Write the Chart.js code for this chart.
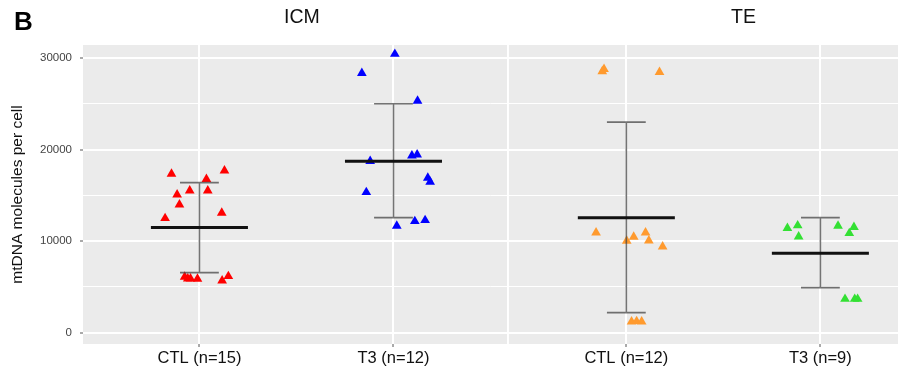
<!DOCTYPE html>
<html>
<head>
<meta charset="utf-8">
<script src="https://cdn.jsdelivr.net/npm/chart.js@4.4.1/dist/chart.umd.min.js"></script>
<style>
  body { margin: 0; background: #fff; overflow: hidden; }
  #wrap { position: relative; width: 898px; height: 372px; font-family: "Liberation Sans", Arial, sans-serif; }
  #wrap canvas { position: absolute; left: 0; top: 0; }
  .lbl { position: absolute; color: #111; white-space: nowrap; }
  #panelB { left: 14px; top: 6px; font-size: 26px; font-weight: bold; color: #000; }
  #stripICM { left: 284px; top: 5px; font-size: 19.5px; }
  #stripTE { left: 731px; top: 5px; font-size: 19.5px; }
</style>
</head>
<body>
<div id="wrap">
  <canvas id="dotChart" width="898" height="372"></canvas>
  <div class="lbl" id="panelB">B</div>
  <div class="lbl" id="stripICM">ICM</div>
  <div class="lbl" id="stripTE">TE</div>
</div>
<script>
// categories (ICM: CTL, T3 | TE: CTL, T3)
const categories = ['CTL (n=15)', 'T3 (n=12)', 'CTL (n=12)', 'T3 (n=9)'];
const yTicks = [0, 5000, 10000, 15000, 20000, 25000, 30000];

// mtDNA molecules per cell
const icmCtl = [17350, 17700, 16770, 15080, 15520, 15520, 13990, 13080, 12500, 6090, 5900, 5900, 5870, 5680, 6160];
const icmT3 = [30430, 28350, 25320, 18730, 19340, 19450, 16900, 16470, 15340, 11660, 12170, 12280];
const teCtl = [28790, 28530, 28460, 10930, 10020, 10460, 10930, 10050, 9400, 1200, 1200, 1250];
const teT3 = [11410, 11700, 10490, 11660, 11520, 10860, 3680, 3680, 3680];

// horizontal jitter of each point (category units)
const icmCtlJitter = [-0.144, 0.129, 0.036, -0.115, -0.05, 0.043, -0.103, 0.115, -0.177, -0.076, -0.06, -0.046, -0.01, 0.117, 0.149];
const icmT3Jitter = [0.007, -0.163, 0.124, -0.12, 0.095, 0.122, 0.177, 0.189, -0.14, 0.017, 0.11, 0.163];
const teCtlJitter = [-0.115, -0.124, 0.171, -0.156, 0.002, 0.038, 0.099, 0.116, 0.187, 0.027, 0.079, 0.053];
const teT3Jitter = [-0.17, -0.117, -0.112, 0.091, 0.173, 0.149, 0.127, 0.177, 0.192];

// mean and error bar ends per group
const means = [11475, 18730, 12540, 8680];
const errLow = [6560, 12570, 2190, 4920];
const errHigh = [16390, 25000, 23000, 12570];

const colors = ['#ff0000', '#0000ff', '#ff9a2e', '#33e033'];
const catPos = [1, 2, 3.2, 4.2];

function pts(values, jitter, k) {
    return values.map(function (v, i) { return { x: catPos[k] + jitter[i], y: v }; });
}

const groups = [[icmCtl, icmCtlJitter], [icmT3, icmT3Jitter], [teCtl, teCtlJitter], [teT3, teT3Jitter]];
const datasets = groups.map(function (g, k) {
    return {
        data: pts(g[0], g[1], k),
        pointStyle: 'triangle',
        radius: 5.6,
        hoverRadius: 5.6,
        backgroundColor: colors[k],
        borderWidth: 0
    };
});

// grey panels with a white gap between facets
const panelBg = {
    id: 'panelBg',
    beforeDraw: function (chart) {
        const c = chart.ctx, a = chart.chartArea, x = chart.scales.x;
        c.save();
        c.fillStyle = '#ebebeb';
        const p1 = x.getPixelForValue(2.585), p2 = x.getPixelForValue(2.595);
        c.fillRect(a.left, a.top, p1 - a.left, a.bottom - a.top);
        c.fillRect(p2, a.top, a.right - p2, a.bottom - a.top);
        c.restore();
    }
};

// mean line and error bars
const meanBars = {
    id: 'meanBars',
    afterDatasetsDraw: function (chart) {
        const c = chart.ctx, x = chart.scales.x, y = chart.scales.y;
        c.save();
        catPos.forEach(function (p, k) {
            const cx = x.getPixelForValue(p);
            const capL = x.getPixelForValue(p - 0.1), capR = x.getPixelForValue(p + 0.1);
            const yl = y.getPixelForValue(errLow[k]), yh = y.getPixelForValue(errHigh[k]);
            c.strokeStyle = 'rgba(70,70,70,0.75)';
            c.lineWidth = 1.6;
            c.beginPath();
            c.moveTo(cx, yl); c.lineTo(cx, yh);
            c.moveTo(capL, yl); c.lineTo(capR, yl);
            c.moveTo(capL, yh); c.lineTo(capR, yh);
            c.stroke();
            const ym = y.getPixelForValue(means[k]);
            c.strokeStyle = '#111';
            c.lineWidth = 3;
            c.beginPath();
            c.moveTo(x.getPixelForValue(p - 0.25), ym);
            c.lineTo(x.getPixelForValue(p + 0.25), ym);
            c.stroke();
        });
        c.restore();
    }
};

const ctx = document.getElementById('dotChart').getContext('2d');
const myChart = new Chart(ctx, {
    type: 'scatter',
    data: { datasets: datasets },
    plugins: [panelBg, meanBars],
    options: {
        responsive: false,
        animation: false,
        events: [],
        layout: { autoPadding: false, padding: { top: 45, right: 0, bottom: 0, left: 0 } },
        plugins: { legend: { display: false }, tooltip: { enabled: false } },
        scales: {
            x: {
                type: 'linear',
                min: 0.4,
                max: 4.6,
                afterBuildTicks: function (scale) {
                    scale.ticks = catPos.map(function (v) { return { value: v }; });
                },
                afterFit: function (scale) {
                    scale.height = 28;
                    scale.paddingLeft = 0;
                    scale.paddingRight = 0;
                },
                border: { display: false },
                grid: { color: '#ffffff', lineWidth: 2, tickLength: 3, tickColor: '#555', tickWidth: 1 },
                ticks: {
                    padding: 2,
                    color: '#111',
                    font: { family: '"Liberation Sans", Arial, sans-serif', size: 16.5 },
                    maxRotation: 0,
                    autoSkip: false,
                    callback: function (v) { return categories[catPos.indexOf(v)]; }
                }
            },
            y: {
                min: -1235,
                max: 31420,
                afterBuildTicks: function (scale) {
                    scale.ticks = yTicks.map(function (v) { return { value: v }; });
                },
                afterFit: function (scale) {
                    scale.width = 83;
                    scale.paddingTop = 0;
                    scale.paddingBottom = 0;
                },
                border: { display: false },
                grid: {
                    color: '#ffffff',
                    lineWidth: function (c) { return c.tick && c.tick.value % 10000 === 0 ? 2 : 1; },
                    tickLength: 3,
                    tickWidth: 1,
                    tickColor: function (c) { return c.tick && c.tick.value % 10000 === 0 ? '#555' : 'rgba(0,0,0,0)'; }
                },
                ticks: {
                    padding: 8,
                    color: '#444',
                    font: { family: '"Liberation Sans", Arial, sans-serif', size: 11.5 },
                    callback: function (v) { return v % 10000 === 0 ? String(v) : ''; }
                },
                title: {
                    display: true,
                    text: 'mtDNA molecules per cell',
                    color: '#111',
                    padding: { top: 8, bottom: 0 },
                    font: { family: '"Liberation Sans", Arial, sans-serif', size: 15.5 }
                }
            }
        }
    }
});
myChart.update();
</script>
</body>
</html>
